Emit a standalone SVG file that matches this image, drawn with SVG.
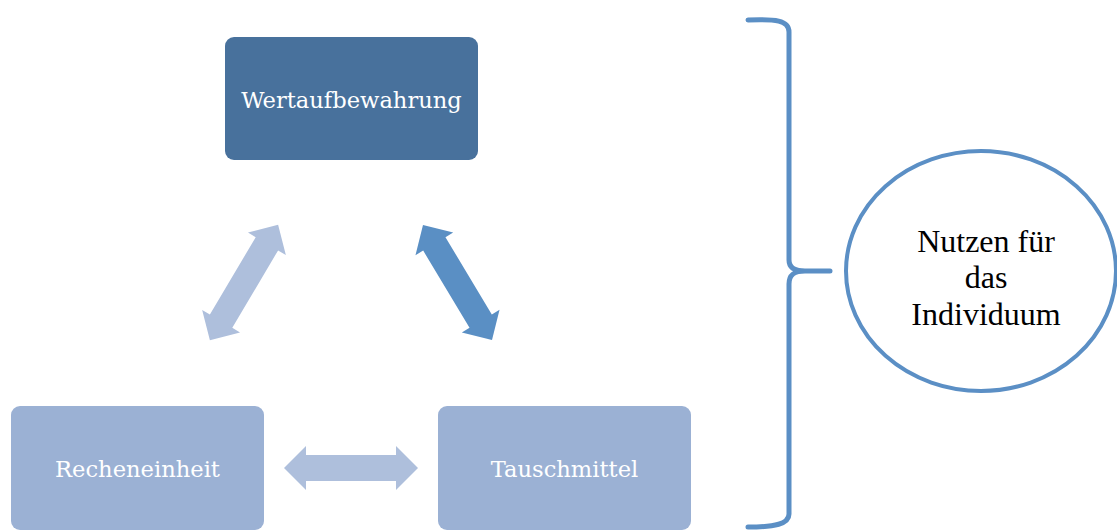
<svg xmlns="http://www.w3.org/2000/svg" width="1117" height="531" viewBox="0 0 1117 531">
<defs>
<style>
.box-label{font-family:"DejaVu Serif","Liberation Serif",serif;font-size:22.6px;fill:#ffffff;text-anchor:middle}
.circ-label{font-family:"Liberation Serif","Times New Roman",serif;font-size:32px;fill:#000000;text-anchor:middle}
</style>
<polygon id="dbl" points="-67,0 -45,-22 -45,-13 45,-13 45,-22 67,0 45,22 45,13 -45,13 -45,22"/>
</defs>
<rect width="1117" height="531" fill="#ffffff"/>
<g id="node-wertaufbewahrung">
<rect x="225" y="37" width="253" height="123" rx="9" fill="#48719C"/>
<text class="box-label" x="351.5" y="108">Wertaufbewahrung</text>
</g>
<g id="node-recheneinheit">
<rect x="11" y="406" width="253" height="124" rx="9" fill="#9BB1D4"/>
<text class="box-label" x="137.5" y="477">Recheneinheit</text>
</g>
<g id="node-tauschmittel">
<rect x="438" y="406" width="253" height="124" rx="9" fill="#9BB1D4"/>
<text class="box-label" x="564.5" y="477">Tauschmittel</text>
</g>
<g id="connectors">
<use href="#dbl" fill="#AEBFDC" transform="translate(244 282.5) rotate(-59.4)"/>
<use href="#dbl" fill="#5A8FC4" transform="translate(457.5 282.5) rotate(59)"/>
<use href="#dbl" fill="#AEBFDC" transform="translate(351 468)"/>
<path d="M748,20 C775,19 789,20 789,32 L789,260 C789,268 795,271 805,271 L830,271 M805,271 C795,271 789,274 789,284 L789,514 C789,524 775,527 748,527" fill="none" stroke="#5B8FC5" stroke-width="5" stroke-linecap="round"/>
</g>
<g id="node-nutzen">
<ellipse cx="981" cy="271" rx="135" ry="120" fill="#ffffff" stroke="#5B8FC5" stroke-width="4"/>
<text class="circ-label" x="986" y="252">Nutzen für</text>
<text class="circ-label" x="986" y="288">das</text>
<text class="circ-label" x="986" y="325">Individuum</text>
</g>
</svg>
